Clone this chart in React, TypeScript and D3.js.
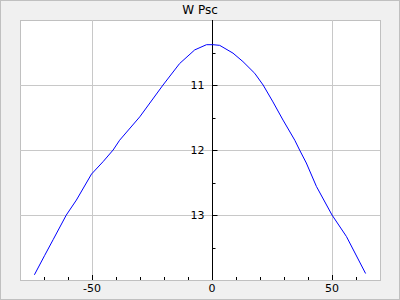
import React from "react";
import * as d3 from "d3";

const title = "W Psc";
const phase = [-74, -69.7, -66.2, -60.7, -56.5, -50.2, -45.4, -41.2, -38.5, -30.1, -20.4, -13.5, -7.2, -2.3, 0.4, 3.2, 8.75, 12.9, 17.8, 21.3, 25.4, 29.6, 34.5, 36.5, 39.3, 43.5, 50, 56, 64];
const mag = [13.92, 13.62, 13.38, 13.0, 12.77, 12.37, 12.18, 12.0, 11.85, 11.49, 11.0, 10.67, 10.46, 10.38, 10.38, 10.39, 10.51, 10.64, 10.82, 11.0, 11.26, 11.54, 11.85, 12.0, 12.2, 12.56, 13.0, 13.33, 13.9];
const xMajor = [-50, 0, 50];
const xMinor = [-70, -60, -40, -30, -20, -10, 10, 20, 30, 40, 60];
const yMajor = [11, 12, 13];
const yMinor = [10.5, 11.5, 12.5, 13.5];
const xDomain = [-80, 70];
const yDomain = [10, 14];

export default function App() {
  const W = 400, H = 300;
  const L = 20, R = 380, T = 20, B = 280;
  const x = d3.scaleLinear().domain(xDomain).range([L, R]);
  const y = d3.scaleLinear().domain(yDomain).range([T, B]);
  const line = d3.line<number>().x((_, i) => x(phase[i])).y((d) => y(d));
  const x0 = Math.round(x(0)) + 0.5;
  const font = "DejaVu Sans, sans-serif";
  return (
    <svg width={W} height={H} style={{ position: "absolute", left: 0, top: 0 }}>
      <rect x={0.5} y={0.5} width={W - 1} height={H - 1} fill="#f0f0f0" stroke="#c0c0c0" />
      <rect x={L + 0.5} y={T + 0.5} width={R - L} height={B - T} fill="#fff" stroke="#c0c0c0" />
      {xMajor.filter((v) => v !== 0).map((v) => (
        <line key={"gx" + v} x1={Math.round(x(v)) + 0.5} x2={Math.round(x(v)) + 0.5} y1={T} y2={B} stroke="#c8c8c8" />
      ))}
      {yMajor.map((v) => (
        <line key={"gy" + v} x1={L} x2={R} y1={Math.round(y(v)) + 0.5} y2={Math.round(y(v)) + 0.5} stroke="#c8c8c8" />
      ))}
      <line x1={x0} x2={x0} y1={T} y2={B} stroke="#000" />
      {xMajor.map((v) => (
        <line key={"tx" + v} x1={Math.round(x(v)) + 0.5} x2={Math.round(x(v)) + 0.5} y1={B} y2={B - 5} stroke="#000" />
      ))}
      {xMinor.map((v) => (
        <line key={"mx" + v} x1={Math.round(x(v)) + 0.5} x2={Math.round(x(v)) + 0.5} y1={B} y2={B - 3} stroke="#000" />
      ))}
      {yMajor.map((v) => (
        <line key={"ty" + v} x1={x0} x2={x0 + 5} y1={Math.round(y(v)) + 0.5} y2={Math.round(y(v)) + 0.5} stroke="#000" />
      ))}
      {yMinor.map((v) => (
        <line key={"my" + v} x1={x0} x2={x0 + 3} y1={Math.round(y(v)) + 0.5} y2={Math.round(y(v)) + 0.5} stroke="#000" />
      ))}
      <path d={line(mag) || ""} fill="none" stroke="#0000ff" strokeWidth={1} />
      {xMajor.map((v) => (
        <text key={"lx" + v} x={x(v)} y={B + 12} textAnchor="middle" fontFamily={font} fontSize={11} fill="#000">
          {v}
        </text>
      ))}
      {yMajor.map((v) => (
        <text key={"ly" + v} x={x0 - 8} y={y(v) + 4} textAnchor="end" fontFamily={font} fontSize={11} fill="#000">
          {v}
        </text>
      ))}
      <text x={W / 2} y={14} textAnchor="middle" fontFamily={font} fontSize={12} fill="#000">
        {title}
      </text>
    </svg>
  );
}
